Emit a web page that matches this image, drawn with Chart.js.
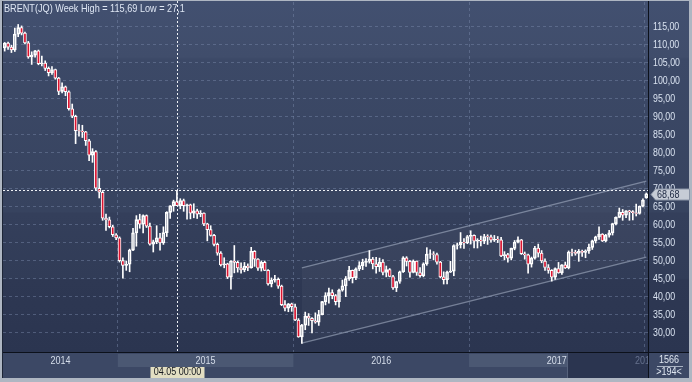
<!DOCTYPE html>
<html>
<head>
<meta charset="utf-8">
<title>BRENT(JQ) Week</title>
<script src="https://cdn.jsdelivr.net/npm/chart.js@4/dist/chart.umd.min.js"></script>
<style>
  html, body { margin: 0; padding: 0; background: #aeb6c2; }
  canvas { display: block; }
</style>
</head>
<body>
<canvas id="brentChart" width="692" height="382"></canvas>
<script>
'use strict';

// ======= data =======

var titleText = 'BRENT(JQ) Week High = 115,69 Low = 27,1';

// weekly bars, first one is the week of 19.05.2014 (the year-end week 2014 is split in two bars)
var opens2014 = [109.2, 110.5, 109.4, 108.6, 113.0, 114.8, 113.3, 110.6, 106.7, 107.2, 108.4, 104.8, 105.0, 103.5, 102.3, 103.2, 100.8, 97.1, 98.4, 97.0, 92.3, 90.2, 86.2, 86.1, 85.9, 83.4, 79.4, 80.4, 70.2, 69.1, 61.9, 61.4, 59.5, 57.3];
var highs2014 = [110.7, 110.8, 109.9, 114.7, 115.7, 115.3, 113.6, 111.0, 108.1, 108.5, 108.6, 106.9, 105.6, 103.9, 104.0, 103.3, 101.0, 99.5, 98.6, 97.3, 93.6, 90.5, 87.9, 87.7, 86.0, 83.8, 81.2, 80.7, 72.9, 69.6, 63.0, 62.2, 59.9, 57.6];
var lows2014 = [108.3, 108.8, 107.9, 108.2, 112.3, 112.8, 110.3, 106.3, 104.6, 106.6, 104.5, 104.2, 102.9, 101.4, 101.8, 100.5, 96.2, 96.7, 95.9, 91.9, 89.8, 82.6, 84.7, 84.3, 82.1, 77.9, 77.4, 69.8, 67.5, 61.3, 58.5, 59.2, 56.8, 55.9];
var closes2014 = [110.5, 109.4, 108.6, 113.0, 114.8, 113.3, 110.6, 106.7, 107.2, 108.4, 104.8, 105.0, 103.5, 102.3, 103.2, 100.8, 97.1, 98.4, 97.0, 92.3, 90.2, 86.2, 86.1, 85.9, 83.4, 79.4, 80.4, 70.2, 69.1, 61.9, 61.4, 59.5, 57.3, 56.4];

var opens2015 = [56.4, 50.1, 48.8, 49.1, 53.0, 57.8, 61.5, 60.2, 62.6, 59.7, 54.7, 55.3, 56.4, 55.0, 57.9, 63.5, 65.3, 66.5, 65.4, 66.8, 65.4, 65.6, 63.3, 63.9, 63.0, 63.3, 60.3, 58.7, 57.1, 54.6, 52.2, 48.9, 49.2, 45.5, 50.0, 49.6, 48.1, 47.5, 48.6, 48.1, 52.7, 50.5, 48.0, 49.6, 47.4, 43.6, 44.7, 44.9, 43.0, 37.9, 36.9, 38.1];
var highs2015 = [56.7, 50.9, 50.0, 53.3, 59.1, 62.6, 63.0, 62.8, 62.8, 60.5, 55.8, 59.8, 57.7, 59.5, 63.7, 65.4, 66.9, 69.6, 67.3, 67.2, 65.8, 65.8, 65.9, 64.4, 64.0, 63.4, 60.5, 59.8, 57.4, 55.0, 52.6, 50.9, 49.4, 50.1, 54.3, 50.0, 49.5, 49.6, 49.2, 53.8, 52.9, 50.7, 50.0, 50.0, 47.6, 45.3, 46.0, 45.3, 43.3, 39.0, 38.2, 38.3];
var lows2015 = [49.7, 45.2, 47.4, 47.0, 52.9, 54.1, 59.1, 57.8, 59.3, 54.4, 52.5, 54.8, 53.0, 54.6, 56.8, 61.8, 63.8, 65.7, 64.5, 63.8, 61.6, 61.7, 62.0, 61.8, 62.3, 59.8, 55.6, 56.9, 54.2, 51.6, 48.6, 48.1, 45.1, 42.2, 46.7, 46.9, 46.6, 47.0, 47.3, 48.0, 48.5, 47.4, 47.2, 47.3, 43.3, 42.8, 44.1, 42.4, 37.6, 36.1, 35.9, 36.0];
var closes2015 = [50.1, 48.8, 49.1, 53.0, 57.8, 61.5, 60.2, 62.6, 59.7, 54.7, 55.3, 56.4, 55.0, 57.9, 63.5, 65.3, 66.5, 65.4, 66.8, 65.4, 65.6, 63.3, 63.9, 63.0, 63.3, 60.3, 58.7, 57.1, 54.6, 52.2, 48.9, 49.2, 45.5, 50.0, 49.6, 48.1, 47.5, 48.6, 48.1, 52.7, 50.5, 48.0, 49.6, 47.4, 43.6, 44.7, 44.9, 43.0, 37.9, 36.9, 38.1, 37.3];

var opens2016 = [37.3, 33.6, 28.9, 32.2, 34.7, 34.1, 33.4, 33.0, 35.1, 38.7, 40.4, 41.2, 40.4, 38.7, 41.9, 43.1, 45.1, 47.4, 45.4, 47.8, 48.7, 49.6, 49.9, 50.5, 49.2, 48.4, 49.7, 46.8, 47.6, 45.7, 42.5, 44.3, 47.0, 50.9, 49.9, 46.8, 50.0, 46.8, 45.9, 49.2, 51.9, 52.0, 51.8, 49.7, 45.6, 44.8, 46.9, 47.2, 54.3, 54.5, 55.2, 55.0];
var highs2016 = [38.0, 34.0, 32.4, 35.8, 35.4, 34.3, 35.6, 36.3, 38.8, 41.2, 42.5, 42.0, 40.7, 42.2, 44.7, 45.7, 48.5, 47.5, 48.1, 49.8, 50.5, 50.7, 52.9, 51.0, 51.0, 50.8, 50.4, 48.6, 47.9, 46.0, 44.4, 47.2, 51.2, 51.2, 50.2, 50.3, 50.0, 48.2, 49.5, 53.7, 53.1, 52.6, 52.2, 49.9, 47.0, 47.2, 49.9, 54.5, 55.0, 57.9, 56.2, 57.1];
var lows2016 = [33.4, 28.8, 27.1, 30.9, 32.1, 30.0, 32.7, 32.1, 35.0, 37.8, 38.3, 39.5, 37.8, 37.2, 41.6, 40.1, 44.6, 43.9, 44.8, 47.3, 47.6, 48.5, 49.4, 47.8, 46.6, 47.1, 46.1, 45.6, 45.6, 42.1, 41.5, 43.8, 46.8, 48.6, 45.5, 46.7, 46.0, 45.5, 45.6, 48.8, 50.7, 50.3, 49.1, 45.3, 43.6, 43.6, 46.8, 45.9, 53.3, 53.6, 53.5, 54.8];
var closes2016 = [33.6, 28.9, 32.2, 34.7, 34.1, 33.4, 33.0, 35.1, 38.7, 40.4, 41.2, 40.4, 38.7, 41.9, 43.1, 45.1, 47.4, 45.4, 47.8, 48.7, 49.6, 49.9, 50.5, 49.2, 48.4, 49.7, 46.8, 47.6, 45.7, 42.5, 44.3, 47.0, 50.9, 49.9, 46.8, 50.0, 46.8, 45.9, 49.2, 51.9, 52.0, 51.8, 49.7, 45.6, 44.8, 46.9, 47.2, 54.3, 54.5, 55.2, 55.0, 56.8];

var opens2017 = [56.8, 57.1, 55.5, 55.8, 55.5, 56.8, 56.7, 55.8, 56.0, 55.9, 51.4, 51.8, 50.8, 53.5, 55.2, 55.9, 52.0, 51.7, 49.1, 50.8, 53.6, 52.2, 50.0, 48.2, 47.4, 45.5, 47.9, 46.7, 48.9, 48.1, 52.5, 52.4, 52.1, 52.7, 52.4, 52.8, 53.8, 55.6, 56.7, 57.5, 55.6, 57.2, 57.8, 60.4, 62.1, 63.5, 62.7, 63.9, 63.7, 63.4, 63.2, 65.2, 67.6];
var highs2017 = [58.4, 57.3, 56.2, 56.9, 57.4, 57.3, 57.2, 57.1, 56.8, 56.6, 52.6, 52.1, 53.6, 55.7, 56.7, 56.0, 52.5, 51.9, 51.1, 54.1, 54.7, 52.9, 50.6, 49.0, 47.6, 48.1, 49.6, 49.0, 49.7, 52.8, 53.3, 53.0, 53.2, 53.0, 53.1, 54.7, 55.8, 56.9, 59.5, 57.6, 57.4, 58.5, 60.5, 62.3, 64.7, 64.3, 64.0, 64.1, 64.0, 65.8, 65.3, 67.3, 68.9];
var lows2017 = [54.7, 53.6, 53.6, 54.2, 54.8, 54.6, 55.2, 55.4, 55.1, 51.2, 50.3, 49.7, 50.3, 53.1, 55.0, 51.8, 50.5, 46.6, 48.3, 50.5, 51.1, 49.5, 47.4, 46.6, 44.4, 44.9, 46.6, 46.3, 47.9, 47.8, 51.4, 51.6, 49.9, 51.3, 50.9, 52.1, 53.2, 55.0, 56.0, 55.4, 55.3, 56.6, 57.2, 60.0, 62.0, 61.3, 62.0, 61.3, 61.4, 62.5, 63.0, 65.0, 67.4];
var closes2017 = [57.1, 55.5, 55.8, 55.5, 56.8, 56.7, 55.8, 56.0, 55.9, 51.4, 51.8, 50.8, 53.5, 55.2, 55.9, 52.0, 51.7, 49.1, 50.8, 53.6, 52.2, 50.0, 48.2, 47.4, 45.5, 47.9, 46.7, 48.9, 48.1, 52.5, 52.4, 52.1, 52.7, 52.4, 52.8, 53.8, 55.6, 56.7, 57.5, 55.6, 57.2, 57.8, 60.4, 62.1, 63.5, 62.7, 63.9, 63.7, 63.4, 63.2, 65.2, 66.9, 68.68];

var opens = opens2014.concat(opens2015, opens2016, opens2017);
var highs = highs2014.concat(highs2015, highs2016, highs2017);
var lows = lows2014.concat(lows2015, lows2016, lows2017);
var closes = closes2014.concat(closes2015, closes2016, closes2017);

var yearNames = ['2014', '2015', '2016', '2017', '2018'];
var yearStartWeeks = ['2015-01-05', '2016-01-04', '2017-01-02', '2018-01-01'];
var priceTicks = [30, 35, 40, 45, 50, 55, 60, 65, 70, 75, 80, 85, 90, 95, 100, 105, 110, 115];

// trend channel drawn by hand on the chart (week, top, bottom)
var channelFrom = {week: '2016-01-18', top: 48.1, bottom: 27.2};
var channelTo = {week: '2018-01-01', top: 72.2, bottom: 51.1};

// crosshair sits on this week, at its high
var crossWeek = '2015-05-04';

var barsShown = '1566';
var barsVisible = '>194<';

// ======= categories =======

var weekLabels = [];
(function () {
  var d = new Date(Date.UTC(2014, 4, 19));
  var end = Date.UTC(2018, 0, 1);
  while (d.getTime() <= end) {
    var s = d.toISOString().slice(0, 10);
    weekLabels.push(s);
    if (s === '2014-12-29') {
      weekLabels.push('2015-01-01');
    }
    d = new Date(d.getTime() + 7 * 86400000);
  }
})();

// ======= derived series =======

var bodies = [];
var upperWicks = [];
var lowerWicks = [];
var bodyColors = [];
for (var i = 0; i < opens.length; i++) {
  var bodyTop = Math.max(opens[i], closes[i]);
  var bodyBottom = Math.min(opens[i], closes[i]);
  bodies.push([opens[i], closes[i]]);
  upperWicks.push([bodyTop, highs[i]]);
  lowerWicks.push([lows[i], bodyBottom]);
  bodyColors.push(closes[i] < opens[i] ? '#dc1430' : 'rgba(0,0,0,0)');
}

var channelTop = weekLabels.map(function () { return null; });
var channelBottom = weekLabels.map(function () { return null; });
channelTop[weekLabels.indexOf(channelFrom.week)] = channelFrom.top;
channelTop[weekLabels.indexOf(channelTo.week)] = channelTo.top;
channelBottom[weekLabels.indexOf(channelFrom.week)] = channelFrom.bottom;
channelBottom[weekLabels.indexOf(channelTo.week)] = channelTo.bottom;

var yearStartIdx = yearStartWeeks.map(function (w) { return weekLabels.indexOf(w); });
var crossIdx = weekLabels.indexOf(crossWeek);

// ======= helpers =======

var FONT = '"Liberation Sans", Arial, sans-serif';
var gridColor = 'rgba(125, 140, 172, 0.45)';

function squeezedText(c, txt, x, y, size, squeeze, align, color) {
  c.save();
  c.font = size + 'px ' + FONT;
  c.fillStyle = color;
  c.textAlign = align;
  c.textBaseline = 'middle';
  c.translate(x, y);
  c.scale(squeeze, 1);
  c.fillText(txt, 0, 0);
  c.restore();
}

function priceText(v) {
  return v.toFixed(2).replace('.', ',');
}

// ======= decoration plugin =======

var terminalLook = {
  id: 'terminalLook',
  beforeDraw: function (chart) {
    var c = chart.ctx;
    var a = chart.chartArea;
    var W = chart.width;
    var H = chart.height;
    var xs = chart.scales.x;

    c.save();
    c.fillStyle = '#aeb6c2';
    c.fillRect(0, 0, W, H);

    var g = c.createLinearGradient(0, 1, 0, a.bottom);
    g.addColorStop(0, '#425070');
    g.addColorStop(0.16, '#404d6b');
    g.addColorStop(0.165, '#3c4967');
    g.addColorStop(0.6, '#37435f');
    g.addColorStop(0.605, '#343f5b');
    g.addColorStop(0.79, '#313c57');
    g.addColorStop(0.795, '#2e3853');
    g.addColorStop(1, '#2b3550');
    c.fillStyle = g;
    c.fillRect(2, 1, W - 5, a.bottom - 1);

    // time strip
    c.fillStyle = '#3c4865';
    c.fillRect(2, a.bottom, W - 5, H - 4 - a.bottom);

    var half = (xs.getPixelForValue(1) - xs.getPixelForValue(0)) / 2;
    var edges = yearStartIdx.map(function (k) { return xs.getPixelForValue(k) - half; });
    c.fillStyle = '#4b5873';
    c.fillRect(edges[0], a.bottom + 2, edges[1] - edges[0], 13);
    c.fillRect(edges[2], a.bottom + 2, 567 - edges[2], 13);
    c.fillStyle = '#2b3550';
    c.fillRect(567, a.bottom + 1, a.right - 567, 25);
    c.fillStyle = '#56627c';
    c.fillRect(567, a.bottom + 1, 1, 25);
    c.restore();
  },
  afterDraw: function (chart) {
    var c = chart.ctx;
    var a = chart.chartArea;
    var W = chart.width;
    var H = chart.height;
    var xs = chart.scales.x;
    var ys = chart.scales.y;

    c.save();

    // frame lines
    c.fillStyle = '#0c111b';
    c.fillRect(a.right, 1, 1, H - 5);
    c.fillRect(2, a.bottom, W - 5, 1);
    c.fillStyle = '#1d2536';
    c.fillRect(2, 1, 1, H - 5);

    // crosshair
    var cx = Math.round(xs.getPixelForValue(crossIdx)) + 0.5;
    var cy = Math.round(ys.getPixelForValue(highs[crossIdx])) + 0.5;
    c.strokeStyle = '#eef1f6';
    c.lineWidth = 1;
    c.setLineDash([2, 2]);
    c.beginPath();
    c.moveTo(cx, 1);
    c.lineTo(cx, a.bottom);
    c.moveTo(a.left, cy);
    c.lineTo(a.right, cy);
    c.stroke();
    c.setLineDash([]);

    // title
    squeezedText(c, titleText, 4, 8.5, 11, 0.83, 'left', '#dfe7f4');

    // price labels
    priceTicks.forEach(function (v) {
      squeezedText(c, priceText(v), 653, ys.getPixelForValue(v), 10, 0.88, 'left', '#d9e2f0');
    });

    // last price box
    var last = closes[closes.length - 1];
    var py = Math.round(ys.getPixelForValue(last)) + 0.5;
    c.fillStyle = '#c6ccd6';
    c.strokeStyle = '#8a94a6';
    c.beginPath();
    c.moveTo(651, py);
    c.lineTo(655.5, py - 5.5);
    c.lineTo(689.5, py - 5.5);
    c.lineTo(689.5, py + 5.5);
    c.lineTo(655.5, py + 5.5);
    c.closePath();
    c.fill();
    c.stroke();
    squeezedText(c, priceText(last), 657, py + 0.5, 10, 0.9, 'left', '#1b2640');

    // year names
    var half = (xs.getPixelForValue(1) - xs.getPixelForValue(0)) / 2;
    var edges = [a.left].concat(yearStartIdx.map(function (k) { return xs.getPixelForValue(k) - half; }));
    for (var k = 0; k < 4; k++) {
      squeezedText(c, yearNames[k], (edges[k] + edges[k + 1]) / 2, a.bottom + 9, 10, 0.9, 'center', '#d6deeb');
    }
    c.save();
    c.beginPath();
    c.rect(a.left, a.bottom, a.right - a.left, 26);
    c.clip();
    squeezedText(c, yearNames[4], 635, a.bottom + 9, 10, 0.9, 'left', '#66728e');
    c.restore();

    // date box under the crosshair
    var p = weekLabels[crossIdx].split('-');
    var dateText = p[2] + '.' + p[1] + ' 00:00';
    c.fillStyle = '#e2dec2';
    c.fillRect(cx - 27, a.bottom + 15, 54, 11);
    squeezedText(c, dateText, cx, a.bottom + 20.5, 10, 0.9, 'center', '#15181e');

    // bar counter
    squeezedText(c, barsShown, 669, a.bottom + 8.5, 10, 0.9, 'center', '#dfe6f0');
    c.fillStyle = '#a9b3c3';
    c.fillRect(657, a.bottom + 14, 26, 1);
    squeezedText(c, barsVisible, 669, a.bottom + 20.5, 10, 0.9, 'center', '#dfe6f0');

    c.restore();
  }
};

// ======= chart =======

var ctx = document.getElementById('brentChart').getContext('2d');
var chart = new Chart(ctx, {
  type: 'bar',
  data: {
    labels: weekLabels,
    datasets: [
      {
        label: 'Channel top',
        type: 'line',
        data: channelTop,
        spanGaps: true,
        borderColor: 'rgba(175, 186, 206, 0.55)',
        borderWidth: 1.3,
        pointRadius: 0,
        fill: '+1',
        backgroundColor: 'rgba(255, 255, 255, 0.035)',
        order: 3
      },
      {
        label: 'Channel bottom',
        type: 'line',
        data: channelBottom,
        spanGaps: true,
        borderColor: 'rgba(175, 186, 206, 0.55)',
        borderWidth: 1.3,
        pointRadius: 0,
        fill: false,
        order: 3
      },
      {
        label: 'Upper wick',
        data: upperWicks,
        backgroundColor: '#ffffff',
        barThickness: 1,
        grouped: false,
        order: 2
      },
      {
        label: 'Lower wick',
        data: lowerWicks,
        backgroundColor: '#ffffff',
        barThickness: 1,
        grouped: false,
        order: 2
      },
      {
        label: 'Body',
        data: bodies,
        backgroundColor: bodyColors,
        borderColor: '#ffffff',
        borderWidth: 1,
        borderSkipped: false,
        barThickness: 3,
        grouped: false,
        order: 1
      }
    ]
  },
  options: {
    responsive: false,
    animation: false,
    events: [],
    layout: { padding: { left: 3, right: 3, top: 2, bottom: 4 } },
    plugins: {
      legend: { display: false },
      tooltip: { enabled: false },
      title: { display: false }
    },
    scales: {
      x: {
        offset: true,
        grid: {
          offset: true,
          drawTicks: false,
          color: function (c) {
            return yearStartIdx.indexOf(c.index) >= 0 ? gridColor : 'rgba(0,0,0,0)';
          }
        },
        border: { display: false, dash: [3, 3] },
        ticks: { display: false, autoSkip: false },
        afterFit: function (s) { s.height = 26; }
      },
      y: {
        position: 'right',
        min: 24.72,
        max: 121.94,
        afterBuildTicks: function (s) {
          s.ticks = priceTicks.map(function (v) { return { value: v }; });
        },
        grid: { color: gridColor, drawTicks: false },
        border: { display: false, dash: [3, 3] },
        ticks: { display: false },
        afterFit: function (s) { s.width = 41; }
      }
    }
  },
  plugins: [terminalLook]
});
</script>
</body>
</html>
